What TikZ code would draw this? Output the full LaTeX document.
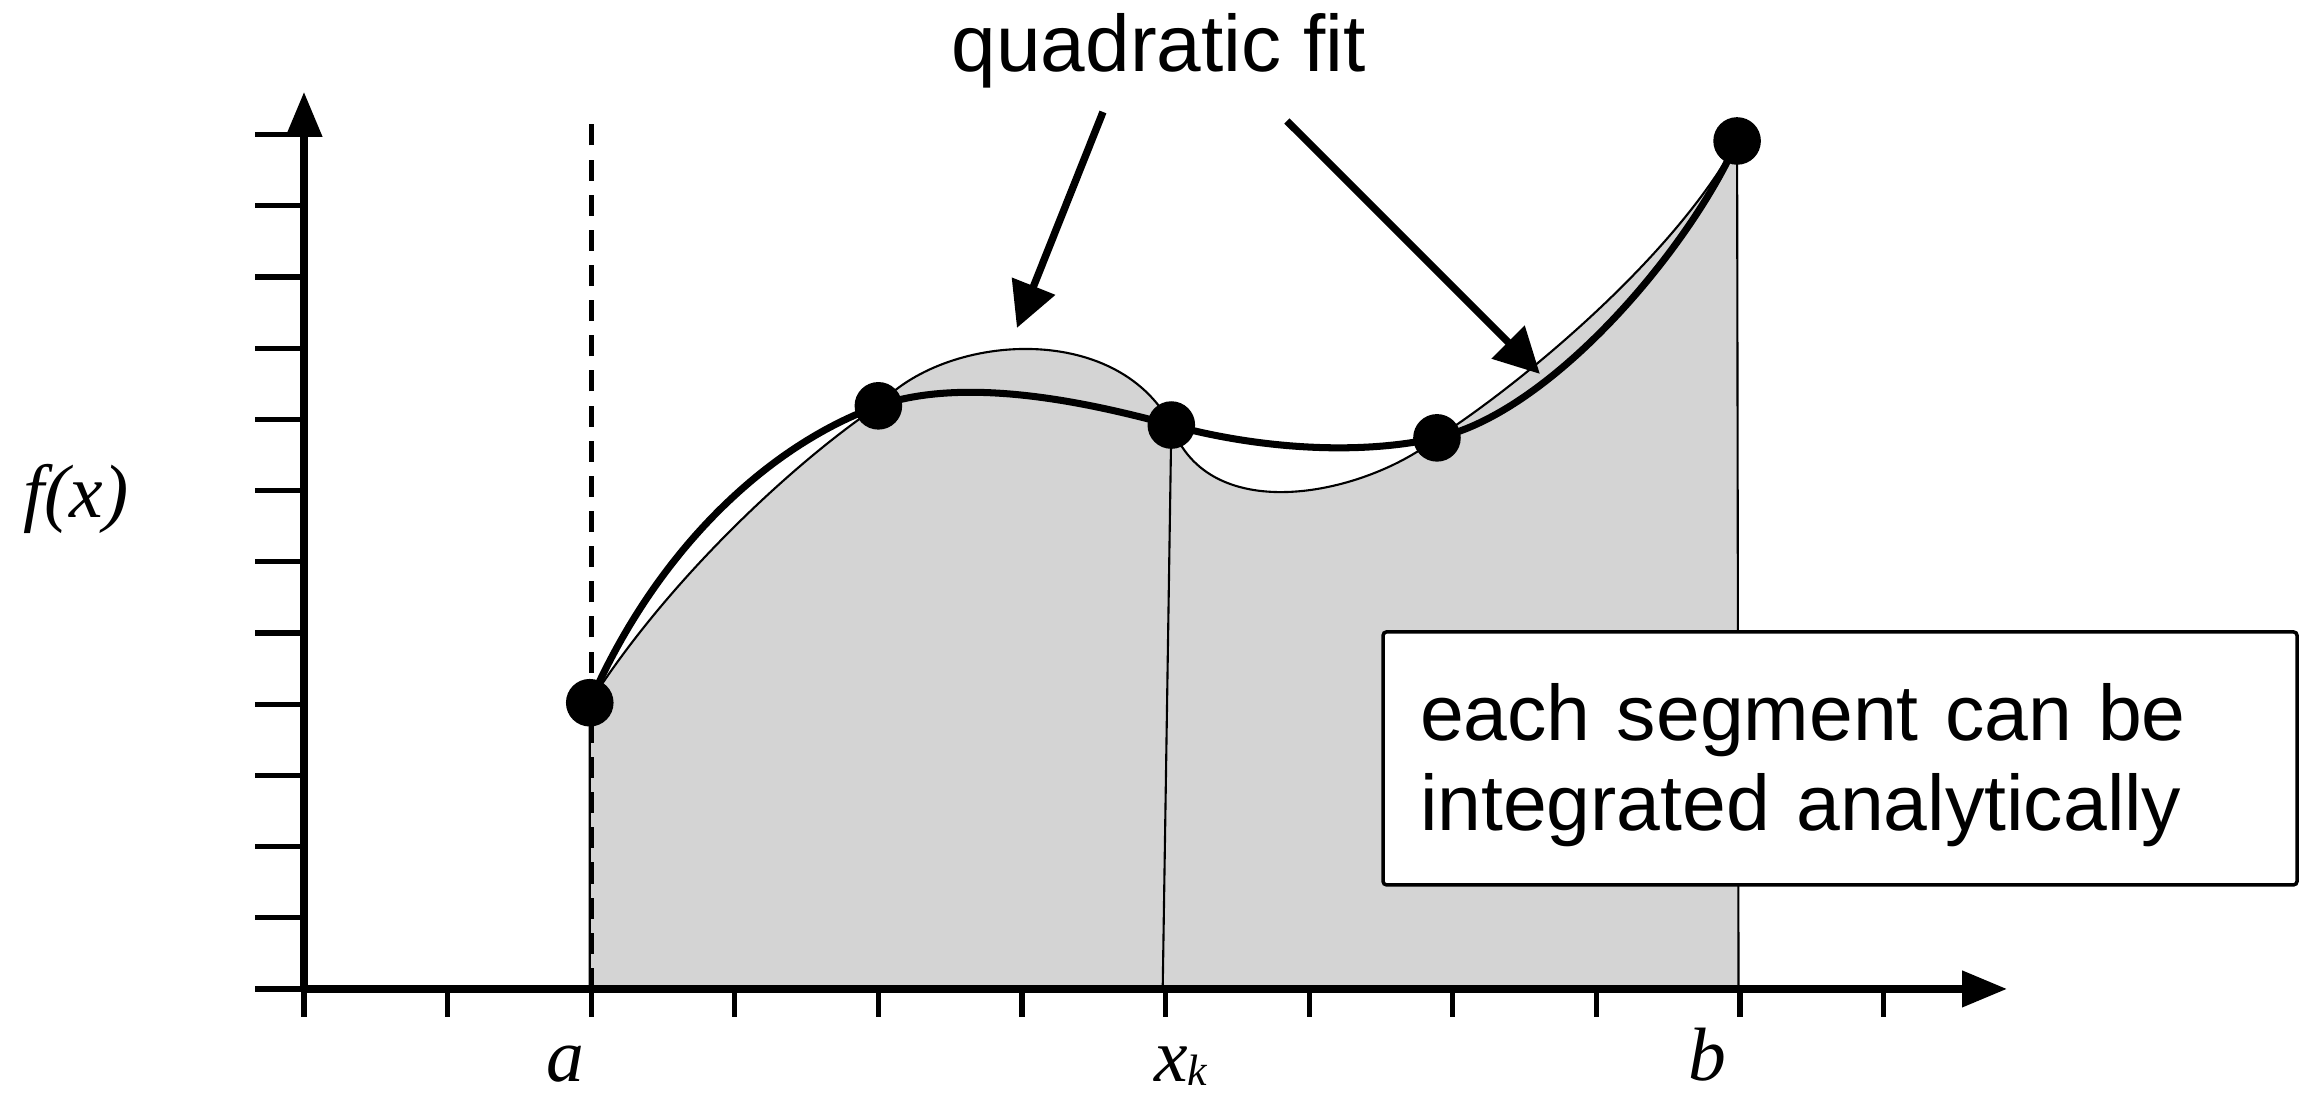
\documentclass[tikz,border=0pt]{standalone}
\usepackage{fontspec}
\setmainfont{Liberation Sans}
\newfontfamily\timesfont{Liberation Serif}
\usetikzlibrary{arrows.meta}
\definecolor{areagray}{RGB}{212,212,212}

\begin{document}
\begin{tikzpicture}[x=1.436cm, y=0.712cm,
    axis/.style={line width=2.1pt, -{Triangle[length=0.45cm,width=0.35cm]}},
    tick/.style={line width=1.5pt},
    fitline/.style={line width=0.6pt},
    truecurve/.style={line width=2pt},
    limit/.style={line width=1.4pt, dash pattern=on 6pt off 4pt},
    callout/.style={line width=2.1pt, -{Triangle[length=0.45cm,width=0.45cm]}},
    axislabel/.style={font=\fontsize{21.5}{24}\selectfont\timesfont\itshape, anchor=base},
    bigtext/.style={font=\fontsize{22.8}{25.6}\selectfont}]
    \useasboundingbox (-2.117,-1.475) rectangle (13.907,13.890);

    % Sample points
    \coordinate (p1) at (1.99,4.02);
    \coordinate (p2) at (4.0,8.19);
    \coordinate (p3) at (6.04,7.92);
    \coordinate (p4) at (7.89,7.74);
    \coordinate (p5) at (9.98,11.91);

    % Area under the quadratic fits
    \filldraw[fill=areagray, fitline] (1.99,0) -- (p1)
        .. controls (2.55,5.8) and (3.45,7.45) .. (p2)
        .. controls (4.45,9.2) and (5.65,9.4) .. (p3)
        .. controls (6.3,6.45) and (7.4,6.95) .. (p4)
        .. controls (8.49,8.52) and (9.55,10.3) .. (p5)
        -- (9.99,0) -- cycle;
    \draw[fitline] (5.98,0) -- (p3);

    % True function
    \draw[truecurve] (p1)
        .. controls (2.49,6.32) and (3.3,7.69) .. (p2)
        .. controls (4.6,8.61) and (5.44,8.25) .. (p3)
        .. controls (6.64,7.59) and (7.34,7.49) .. (p4)
        .. controls (8.69,8.1) and (9.65,10.4) .. (p5);

    % Limits
    \draw[limit] (2,0) -- (2,12.34);
    \draw[limit] (p5) -- (9.99,12.34);

    % Axes and ticks
    \foreach \i in {0,...,11}
        \draw[tick] (\i,0) -- (\i,-0.39);
    \foreach \j in {0,...,12}
        \draw[tick] (-0.34,\j) -- (0,\j);
    \draw[axis] (0,0) -- (11.86,0);
    \draw[axis] (0,0) -- (0,12.6);

    % Note
    \node[draw, line width=1pt, fill=white, rounded corners=1pt,
          font=\fontsize{22.4}{25.6}\selectfont,
          minimum width=9.14cm, minimum height=2.53cm, text width=8.4cm,
          align=left, inner xsep=0.37cm] (note) at (10.697,3.238)
          {\rule{0pt}{20.3pt}each segment can be\\integrated analytically};

    % Points
    \foreach \p in {p1,p2,p3,p4,p5}
        \fill (\p) circle (0.238cm);

    % Labels
    \node[bigtext, anchor=base] (qfit) at (5.954,12.879) {quadratic fit};
    \coordinate (q1) at (5.564,12.317);
    \coordinate (t1) at (4.965,9.284);
    \coordinate (q2) at (6.845,12.191);
    \coordinate (t2) at (8.607,8.638);
    \draw[callout] (q1) -- (t1);
    \draw[callout] (q2) -- (t2);

    \node[axislabel] (fx) at (-1.588,6.615) {f(x)};
    \node[axislabel] (la) at (1.818,-1.306) {a};
    \node[axislabel, anchor=base west] (lxk) at (5.833,-1.30)
        {x\raisebox{-1.2pt}{\fontsize{12.5}{12.5}\selectfont k}};
    \node[axislabel] (lb) at (9.77,-1.29) {b};
\end{tikzpicture}
\end{document}
